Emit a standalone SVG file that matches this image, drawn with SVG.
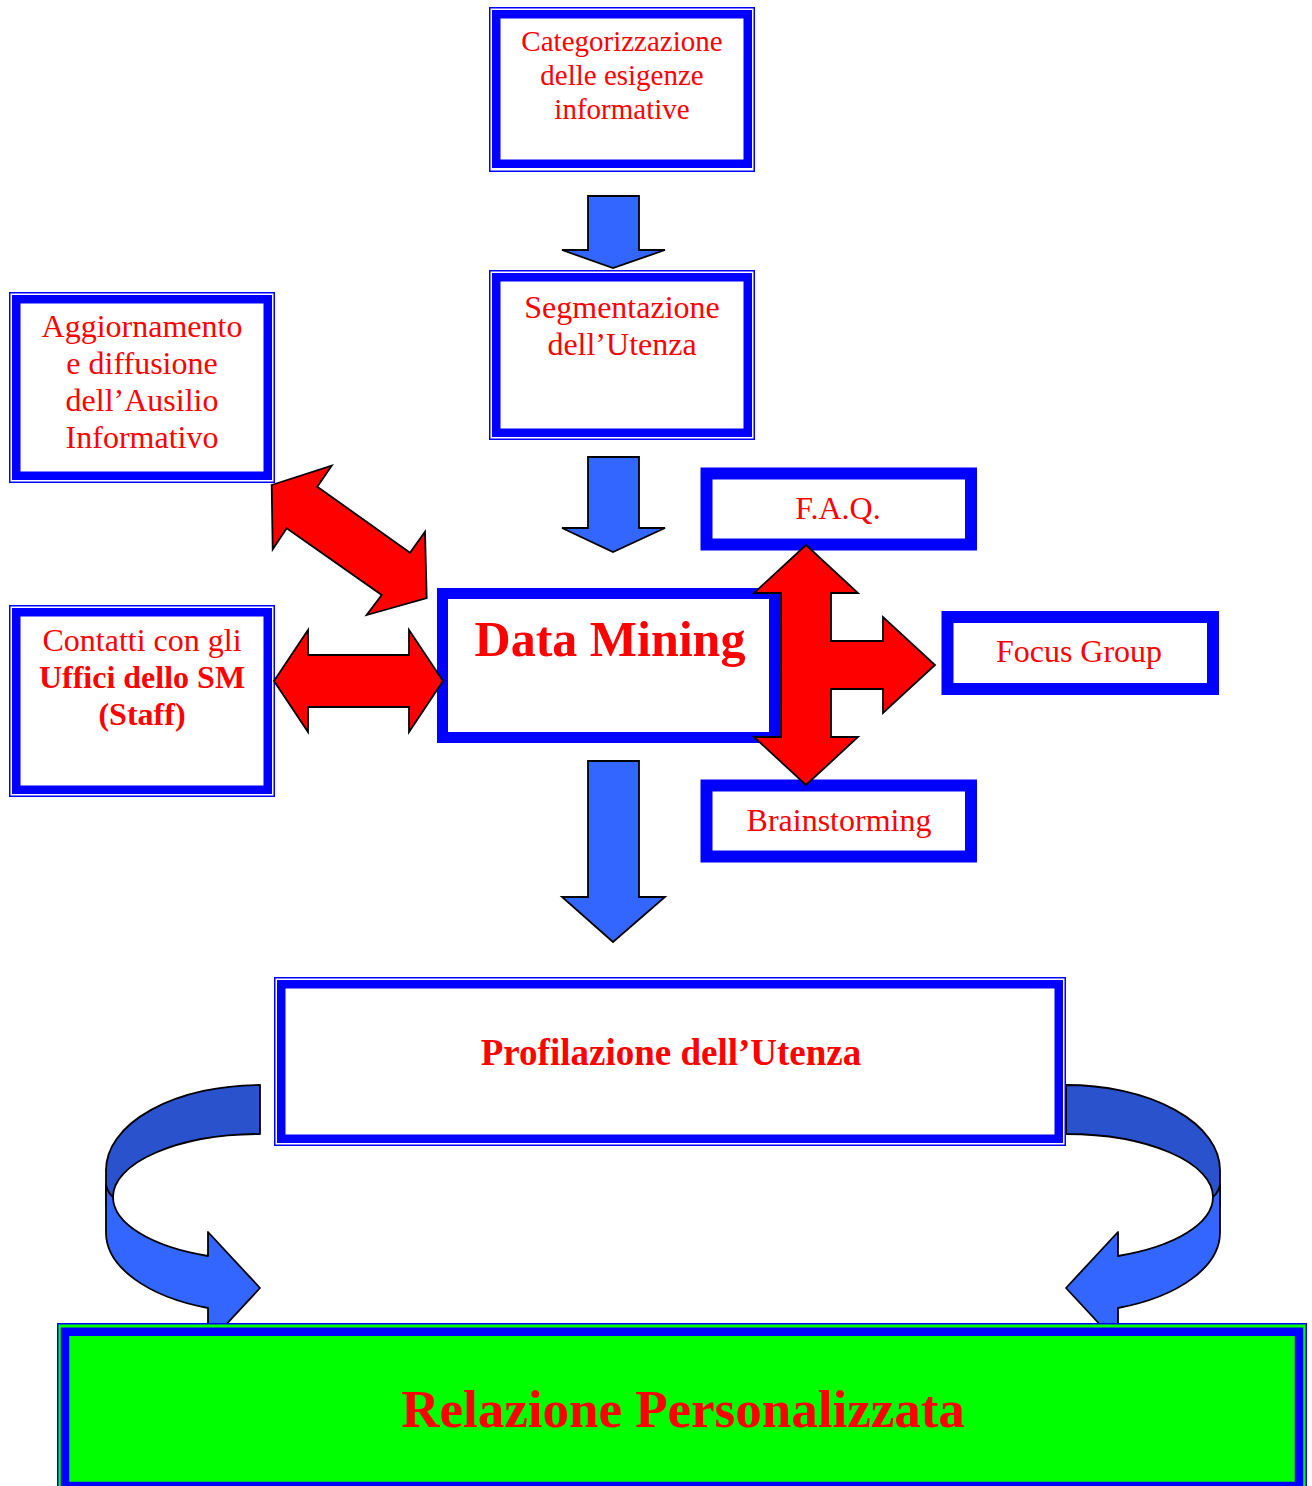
<svg xmlns="http://www.w3.org/2000/svg" width="1312" height="1486" viewBox="0 0 1312 1486">
<style>
.thin{fill:none;stroke:#0000FF;stroke-width:1.5}
.thick{fill:#FFFFFF;stroke:#0000FF;stroke-width:8.5}
.single{fill:#FFFFFF;stroke:#0000FF;stroke-width:12}
.t{font-family:"Liberation Serif","Times New Roman",serif;fill:#FF0000;text-anchor:middle;font-size:32px}
.b{font-weight:bold}
.red{fill:#FF0000;stroke:#000000;stroke-width:1.8;stroke-linejoin:miter}
.blue{fill:#3366FF;stroke:#000000;stroke-width:1.8;stroke-linejoin:miter}
.dark{fill:#2A52CC;stroke:#000000;stroke-width:1.8;stroke-linejoin:round}
.light{fill:#3366FF;stroke:#000000;stroke-width:1.8;stroke-linejoin:round}
</style>
<rect width="1312" height="1486" fill="#FFFFFF"/>

<g id="connectors">
  <polygon class="blue" points="588,196 639,196 639,250 665,250 613,268 562,250 588,250"/>
  <polygon class="blue" points="588,457 639,457 639,528 665,528 613,552 562,528 588,528"/>
  <polygon class="blue" points="588,761 639,761 639,897 665,897 613,942 562,897 588,897"/>
  <g id="curve-left">
    <path class="dark" d="M260,1085 A154,85 0 0 0 106,1170 L106,1205 L113,1197 A147,63 0 0 1 260,1134 Z"/>
    <path class="light" d="M113,1197 A147,63 0 0 0 208,1256 L208,1232 L260,1288 L208,1344 L208,1308 A154,80 0 0 1 106,1233 L106,1185 Q108,1193 113,1197 Z"/>
  </g>
  <g id="curve-right" transform="matrix(-1,0,0,1,1326,0)">
    <path class="dark" d="M260,1085 A154,85 0 0 0 106,1170 L106,1205 L113,1197 A147,63 0 0 1 260,1134 Z"/>
    <path class="light" d="M113,1197 A147,63 0 0 0 208,1256 L208,1232 L260,1288 L208,1344 L208,1308 A154,80 0 0 1 106,1233 L106,1185 Q108,1193 113,1197 Z"/>
  </g>
</g>

<g id="n-categorizzazione">
  <rect class="thin" x="489.75" y="7.75" width="264.5" height="163.5"/>
  <rect class="thick" x="496.25" y="14.25" width="251.5" height="149.5"/>
  <text class="t" x="622" y="51" style="font-size:29px">Categorizzazione</text>
  <text class="t" x="622" y="85" style="font-size:29px">delle esigenze</text>
  <text class="t" x="622" y="119" style="font-size:29px">informative</text>
</g>

<g id="n-segmentazione">
  <rect class="thin" x="489.75" y="270.75" width="264.5" height="168.5"/>
  <rect class="thick" x="496.25" y="277.25" width="251.5" height="155.5"/>
  <text class="t" x="622" y="318">Segmentazione</text>
  <text class="t" x="622" y="355">dell’Utenza</text>
</g>

<g id="n-aggiornamento">
  <rect class="thin" x="9.75" y="292.75" width="264.5" height="189.5"/>
  <rect class="thick" x="16.25" y="299.25" width="251.5" height="176.5"/>
  <text class="t" x="142" y="337">Aggiornamento</text>
  <text class="t" x="142" y="374">e diffusione</text>
  <text class="t" x="142" y="411">dell’Ausilio</text>
  <text class="t" x="142" y="448">Informativo</text>
</g>

<g id="n-contatti">
  <rect class="thin" x="9.75" y="605.75" width="264.5" height="190.5"/>
  <rect class="thick" x="16.25" y="612.25" width="251.5" height="177.5"/>
  <text class="t" x="142" y="651">Contatti con gli</text>
  <text class="t b" x="142" y="688">Uffici dello SM</text>
  <text class="t b" x="142" y="725">(Staff)</text>
</g>

<g id="n-datamining">
  <rect class="single" x="442.5" y="593.5" width="332" height="144" style="stroke-width:11"/>
  <text class="t b" x="610" y="656" style="font-size:50px">Data Mining</text>
</g>

<g id="n-faq">
  <rect class="single" x="706.5" y="473.5" width="264.5" height="71"/>
  <text class="t" x="838" y="519">F.A.Q.</text>
</g>

<g id="n-focus">
  <rect class="single" x="947.5" y="617" width="265.5" height="72"/>
  <text class="t" x="1079" y="662">Focus Group</text>
</g>

<g id="n-brainstorming">
  <rect class="single" x="706.5" y="785.5" width="264.5" height="71"/>
  <text class="t" x="839" y="831">Brainstorming</text>
</g>

<g id="n-profilazione">
  <rect class="thin" x="274.75" y="977.75" width="790.5" height="167.5"/>
  <rect class="thick" x="281.25" y="984.25" width="777.5" height="154.5"/>
  <text class="t b" x="671" y="1065" style="font-size:37px">Profilazione dell’Utenza</text>
</g>

<g id="n-relazione">
  <rect x="57.75" y="1323.75" width="1248.5" height="169" fill="#00FF00" stroke="#0000FF" stroke-width="1.5"/>
  <rect x="65" y="1331.75" width="1234" height="154.25" fill="#00FF00" stroke="#0000FF" stroke-width="8.5"/>
  <text class="t b" x="683" y="1427" style="font-size:53px">Relazione Personalizzata</text>
</g>

<g id="red-connectors">
  <polygon class="red" points="271.7,485 331.7,465.7 317.3,486.7 410,552.7 425,531.7 426.7,598 366.7,615 381.7,595 286.7,528.3 272.7,549.3"/>
  <polygon class="red" points="274,681 308,630 308,655 409,655 409,630 443,681 409,732 409,707 308,707 308,732"/>
  <polygon class="red" points="806,545 858,593 831,593 831,641 883,641 883,617 935,665 883,713 883,689 831,689 831,737 858,737 806,785 754,737 781,737 781,593 754,593"/>
</g>
</svg>
